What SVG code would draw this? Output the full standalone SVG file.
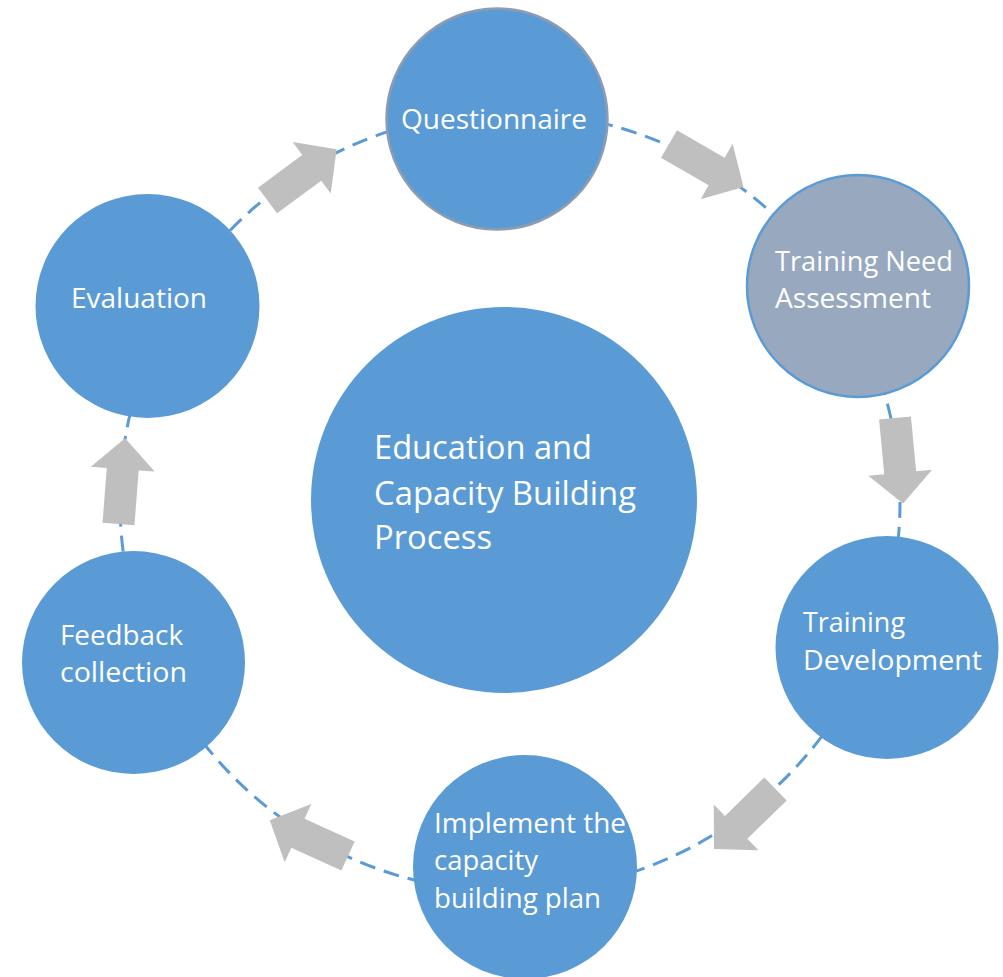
<svg xmlns="http://www.w3.org/2000/svg" width="1003" height="977" viewBox="0 0 1003 977">
  <style>
    .node { fill: #5b9bd5; }
    .label { fill: #ffffff; font-family: "Open Sans", "Noto Sans", "Liberation Sans", sans-serif; font-size: 27px; }
    .big { font-size: 33px; }
    .ring { fill: none; stroke: #5b9bd5; stroke-width: 3; stroke-dasharray: 16 9; }
    .arrow { fill: #bfbfbf; }
  </style>
  <defs>
    <!-- block arrow pointing along +x, tail at origin -->
    <path id="blockArrow" d="M0,-16 H55 V-32 L86,0 L55,32 V16 H0 Z"/>
  </defs>
  <rect width="1003" height="977" fill="#ffffff"/>

  <g id="connectors">
    <circle class="ring" cx="510" cy="502" r="390"/>
    <use href="#blockArrow" class="arrow" transform="translate(267.5,200.5) rotate(-36.5)"/>
    <use href="#blockArrow" class="arrow" transform="translate(669,144) rotate(30)"/>
    <use href="#blockArrow" class="arrow" transform="translate(895,418) rotate(84.6)"/>
    <use href="#blockArrow" class="arrow" transform="translate(775.5,789) rotate(135.7)"/>
    <use href="#blockArrow" class="arrow" transform="translate(348,856) rotate(204.5)"/>
    <use href="#blockArrow" class="arrow" transform="translate(118.5,524) rotate(-85.6)"/>
  </g>

  <g id="center">
    <circle class="node" cx="504" cy="500" r="193"/>
    <text class="label big" x="374" y="459" textLength="218" lengthAdjust="spacingAndGlyphs">Education and</text>
    <text class="label big" x="374" y="505" textLength="262" lengthAdjust="spacingAndGlyphs">Capacity Building</text>
    <text class="label big" x="374" y="549" textLength="118" lengthAdjust="spacingAndGlyphs">Process</text>
  </g>

  <g id="questionnaire">
    <circle class="node" cx="497" cy="119" r="110.5" stroke="#8e9cb2" stroke-width="2.5"/>
    <text class="label" x="401" y="129" textLength="186" lengthAdjust="spacingAndGlyphs">Questionnaire</text>
  </g>

  <g id="training-need-assessment">
    <circle cx="858" cy="286" r="111" fill="#97a8bf" stroke="#5b9bd5" stroke-width="2.5"/>
    <text class="label" x="775" y="271" textLength="178" lengthAdjust="spacingAndGlyphs">Training Need</text>
    <text class="label" x="775" y="308" textLength="156" lengthAdjust="spacingAndGlyphs">Assessment</text>
  </g>

  <g id="training-development">
    <circle class="node" cx="887" cy="647.5" r="111.5"/>
    <text class="label" x="803" y="632" textLength="102" lengthAdjust="spacingAndGlyphs">Training</text>
    <text class="label" x="803" y="670" textLength="179" lengthAdjust="spacingAndGlyphs">Development</text>
  </g>

  <g id="implement-plan">
    <circle class="node" cx="525" cy="867" r="112"/>
    <text class="label" x="434" y="833" textLength="192" lengthAdjust="spacingAndGlyphs">Implement the</text>
    <text class="label" x="434" y="870" textLength="104" lengthAdjust="spacingAndGlyphs">capacity</text>
    <text class="label" x="434" y="908" textLength="167" lengthAdjust="spacingAndGlyphs">building plan</text>
  </g>

  <g id="feedback-collection">
    <circle class="node" cx="133.5" cy="662.5" r="111.5"/>
    <text class="label" x="60" y="645" textLength="123" lengthAdjust="spacingAndGlyphs">Feedback</text>
    <text class="label" x="60" y="682" textLength="127" lengthAdjust="spacingAndGlyphs">collection</text>
  </g>

  <g id="evaluation">
    <circle class="node" cx="147.5" cy="306" r="112"/>
    <text class="label" x="71" y="308" textLength="136" lengthAdjust="spacingAndGlyphs">Evaluation</text>
  </g>
</svg>
